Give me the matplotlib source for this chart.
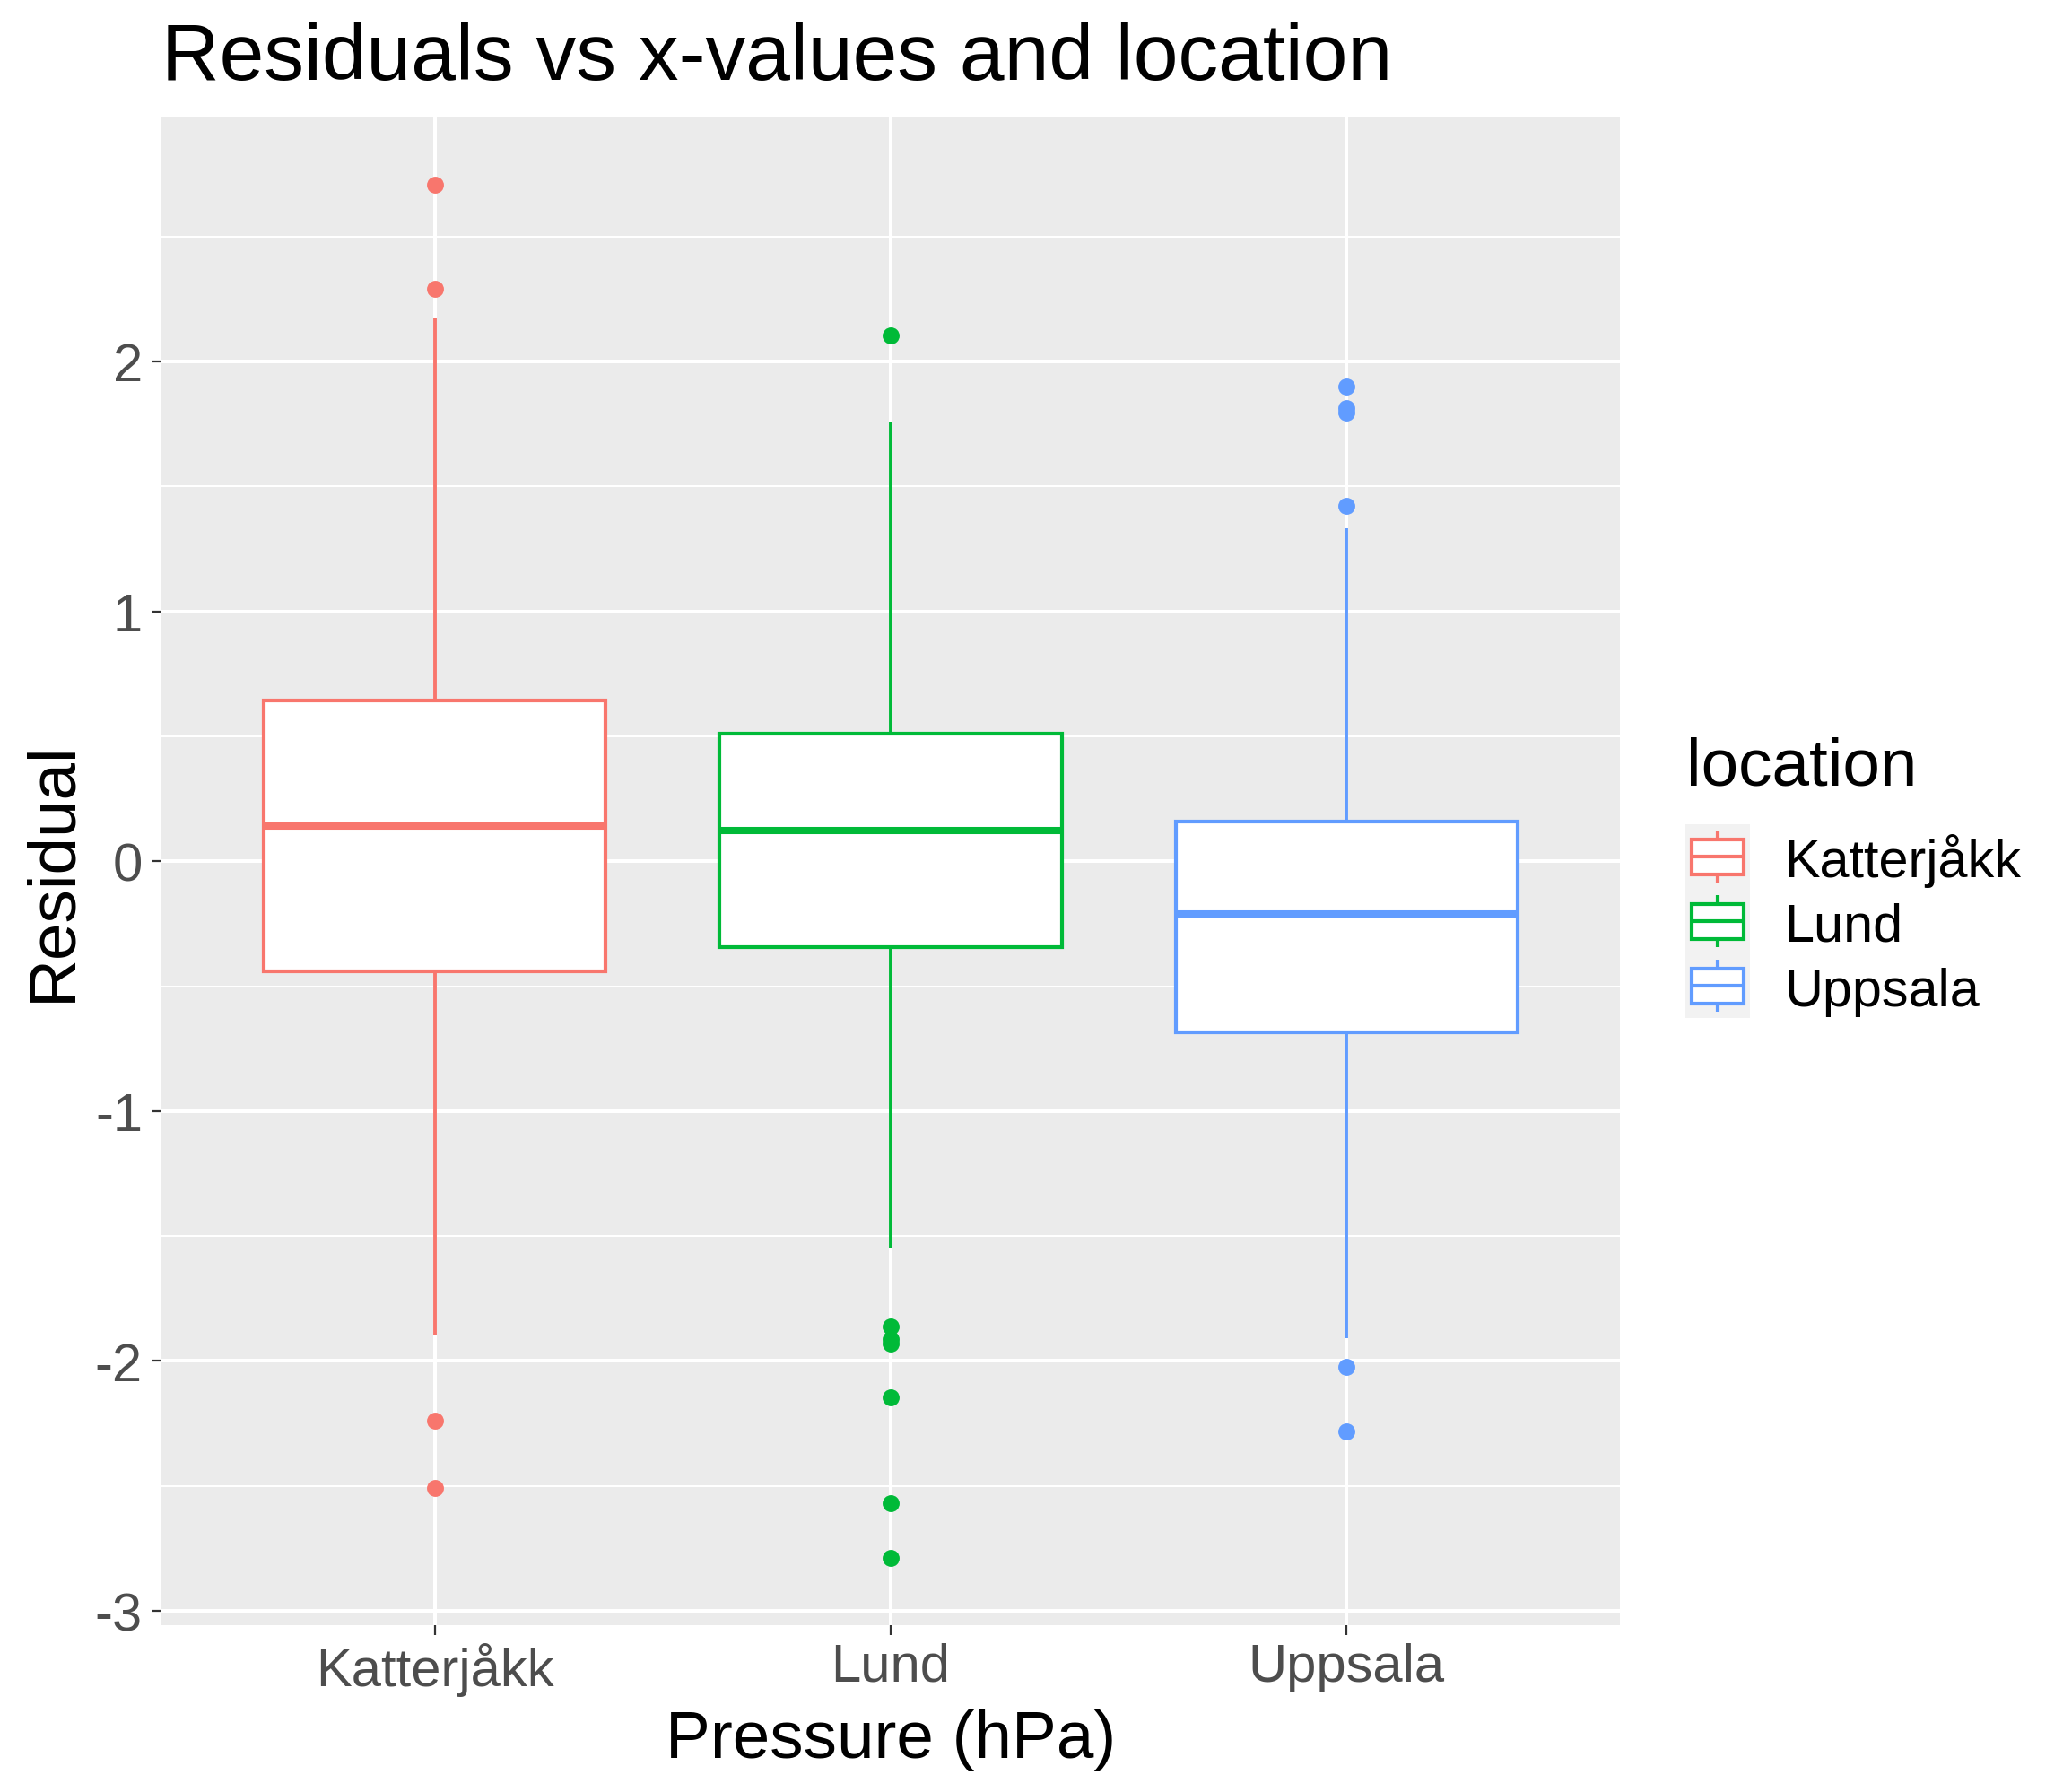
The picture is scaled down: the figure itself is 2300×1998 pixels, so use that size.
import matplotlib
matplotlib.use("Agg")
import matplotlib.pyplot as plt
from matplotlib.patches import Rectangle

plt.rcParams['font.family'] = ['Liberation Sans', 'DejaVu Sans']

# Data
locations = ["Katterjåkk", "Lund", "Uppsala"]
colors = ["#F8766D", "#00BA38", "#619CFF"]

q1 = [-0.441, -0.344, -0.686]
medians = [0.141, 0.124, -0.212]
q3 = [0.643, 0.512, 0.157]
whisker_low = [-1.895, -1.550, -1.910]
whisker_high = [2.176, 1.759, 1.333]

outliers_katterjakk = [2.708, 2.292, -2.237, -2.508]
outliers_lund = [2.103, -1.863, -1.911, -1.931, -2.144, -2.570, -2.787]
outliers_uppsala = [1.901, 1.814, 1.795, 1.423, -2.022, -2.282]
outliers = [outliers_katterjakk, outliers_lund, outliers_uppsala]

y_major = [-3, -2, -1, 0, 1, 2]
y_minor = [-2.5, -1.5, -0.5, 0.5, 1.5, 2.5]

W, H = 2300, 1999
fig = plt.figure(figsize=(W / 200, H / 200), dpi=200)

# panel
left, right, top, bottom = 180, 1806, 132, 1813
ax = fig.add_axes([left / W, 1 - bottom / H, (right - left) / W, (bottom - top) / H])
ax.set_facecolor("#EBEBEB")
ax.set_axisbelow(True)

positions = [1, 2, 3]
for i in range(len(locations)):
    stats = [dict(med=medians[i], q1=q1[i], q3=q3[i],
                  whislo=whisker_low[i], whishi=whisker_high[i],
                  fliers=outliers[i])]
    c = colors[i]
    ax.bxp(stats, positions=[positions[i]], widths=0.75, patch_artist=True,
           showcaps=False,
           boxprops=dict(facecolor="white", edgecolor=c, linewidth=1.5),
           medianprops=dict(color=c, linewidth=2.9, solid_capstyle="butt"),
           whiskerprops=dict(color=c, linewidth=1.4, solid_capstyle="butt"),
           flierprops=dict(marker="o", markerfacecolor=c, markeredgewidth=0,
                           markersize=6.8, linestyle="none"))

ax.set_xlim(0.4, 3.6)
ax.set_ylim(-3.057, 2.976)
ax.set_xticks(positions)
ax.set_xticklabels(locations)
ax.set_yticks(y_major)
ax.set_yticklabels([str(v) for v in y_major])
ax.set_yticks(y_minor, minor=True)

ax.grid(True, which="major", color="white", linewidth=1.45)
ax.grid(True, which="minor", axis="y", color="white", linewidth=0.75)
for s in ax.spines.values():
    s.set_visible(False)
ax.tick_params(which="major", length=4, width=0.8, color="#333333",
               labelcolor="#4D4D4D", labelsize=21.5, pad=3.6)
ax.tick_params(which="minor", length=0)
ax.tick_params(axis="x", pad=2.8)

# titles
fig.text(180 / W, 1 - 89 / H, "Residuals vs x-values and location",
         fontsize=32.2, ha="left", va="baseline", color="black")
fig.text((left + right) / 2 / W, 1 - 1960 / H, "Pressure (hPa)",
         fontsize=26.9, ha="center", va="baseline", color="black")
fig.text(78 / W, 1 - 972 / H, "Residual", fontsize=26.9, rotation=90,
         rotation_mode="anchor", ha="center", va="baseline", color="black")

# legend drawn by hand in pixel coordinates
lax = fig.add_axes([0, 0, 1, 1])
lax.set_xlim(0, W)
lax.set_ylim(H, 0)
lax.axis("off")
lax.patch.set_visible(False)

lax.text(1880, 875, "location", fontsize=26.9, ha="left", va="baseline")
lax.add_patch(Rectangle((1879, 920), 72, 216, facecolor="#F2F2F2", edgecolor="none"))
for i, name in enumerate(locations):
    cy = 956 + 72 * i
    c = colors[i]
    lax.add_patch(Rectangle((1886, cy - 19.5), 58, 39, facecolor="white",
                            edgecolor=c, linewidth=1.5))
    lax.plot([1886, 1944], [cy, cy], color=c, linewidth=1.5, solid_capstyle="butt")
    lax.plot([1915, 1915], [cy - 29, cy - 19.5], color=c, linewidth=1.5, solid_capstyle="butt")
    lax.plot([1915, 1915], [cy + 19.5, cy + 29], color=c, linewidth=1.5, solid_capstyle="butt")
    lax.text(1989, cy + 22, name, fontsize=21.4, ha="left", va="baseline")

fig.savefig("out.png", dpi=200)
